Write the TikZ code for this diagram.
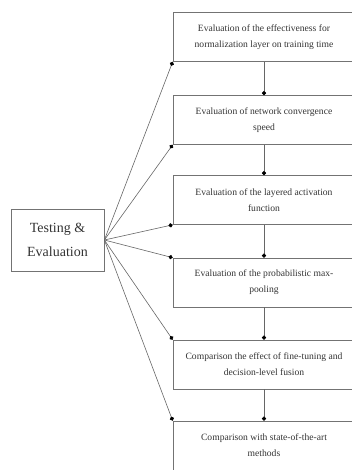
\documentclass[tikz,border=0pt]{standalone}
\usepackage{fontspec}
\setmainfont{Liberation Serif}
\usetikzlibrary{arrows.meta}

\begin{document}
\begin{tikzpicture}[x=1pt,y=-1pt,
    stepbox/.style={draw=black!55, line width=0.7pt, minimum width=182pt, minimum height=49pt,
        inner sep=2pt, align=center, text=black!80, font=\fontsize{9.6}{16}\selectfont},
    mainbox/.style={draw=black!55, line width=0.7pt, minimum width=93pt, minimum height=62pt,
        align=center, text=black!80, font=\fontsize{14}{24}\selectfont},
    link/.style={draw=black!60, line width=0.6pt, -{Circle[length=4.2pt, black]}}]
    \useasboundingbox (0,0) rectangle (352,470);

    % Main block
    \node[mainbox] (test) at (57.5,240) {Testing \&\\Evaluation};

    % Evaluation steps
    \node[stepbox] (effect) at (264,37) {Evaluation of the effectiveness for\\normalization layer on training time};
    \node[stepbox] (conv) at (264,120) {Evaluation of network convergence\\speed};
    \node[stepbox] (act) at (264,200) {Evaluation of the layered activation\\function};
    \node[stepbox] (pool) at (264,282.5) {Evaluation of the probabilistic max-\\pooling};
    \node[stepbox] (fusion) at (264,364.5) {Comparison the effect of fine-tuning and\\decision-level fusion};
    \node[stepbox] (sota) at (264,445.5) {Comparison with state-of-the-art\\methods};

    % Step sequence
    \foreach \a/\b in {effect/conv,conv/act,act/pool,pool/fusion,fusion/sota}
        \draw[link] (\a.south) -- (\b.north);

    % Fan out from main block
    \foreach \s in {effect,conv,act}
        \draw[link] (test.east) -- (\s.south west);
    \foreach \s in {pool,fusion,sota}
        \draw[link] (test.east) -- (\s.north west);
\end{tikzpicture}
\end{document}
